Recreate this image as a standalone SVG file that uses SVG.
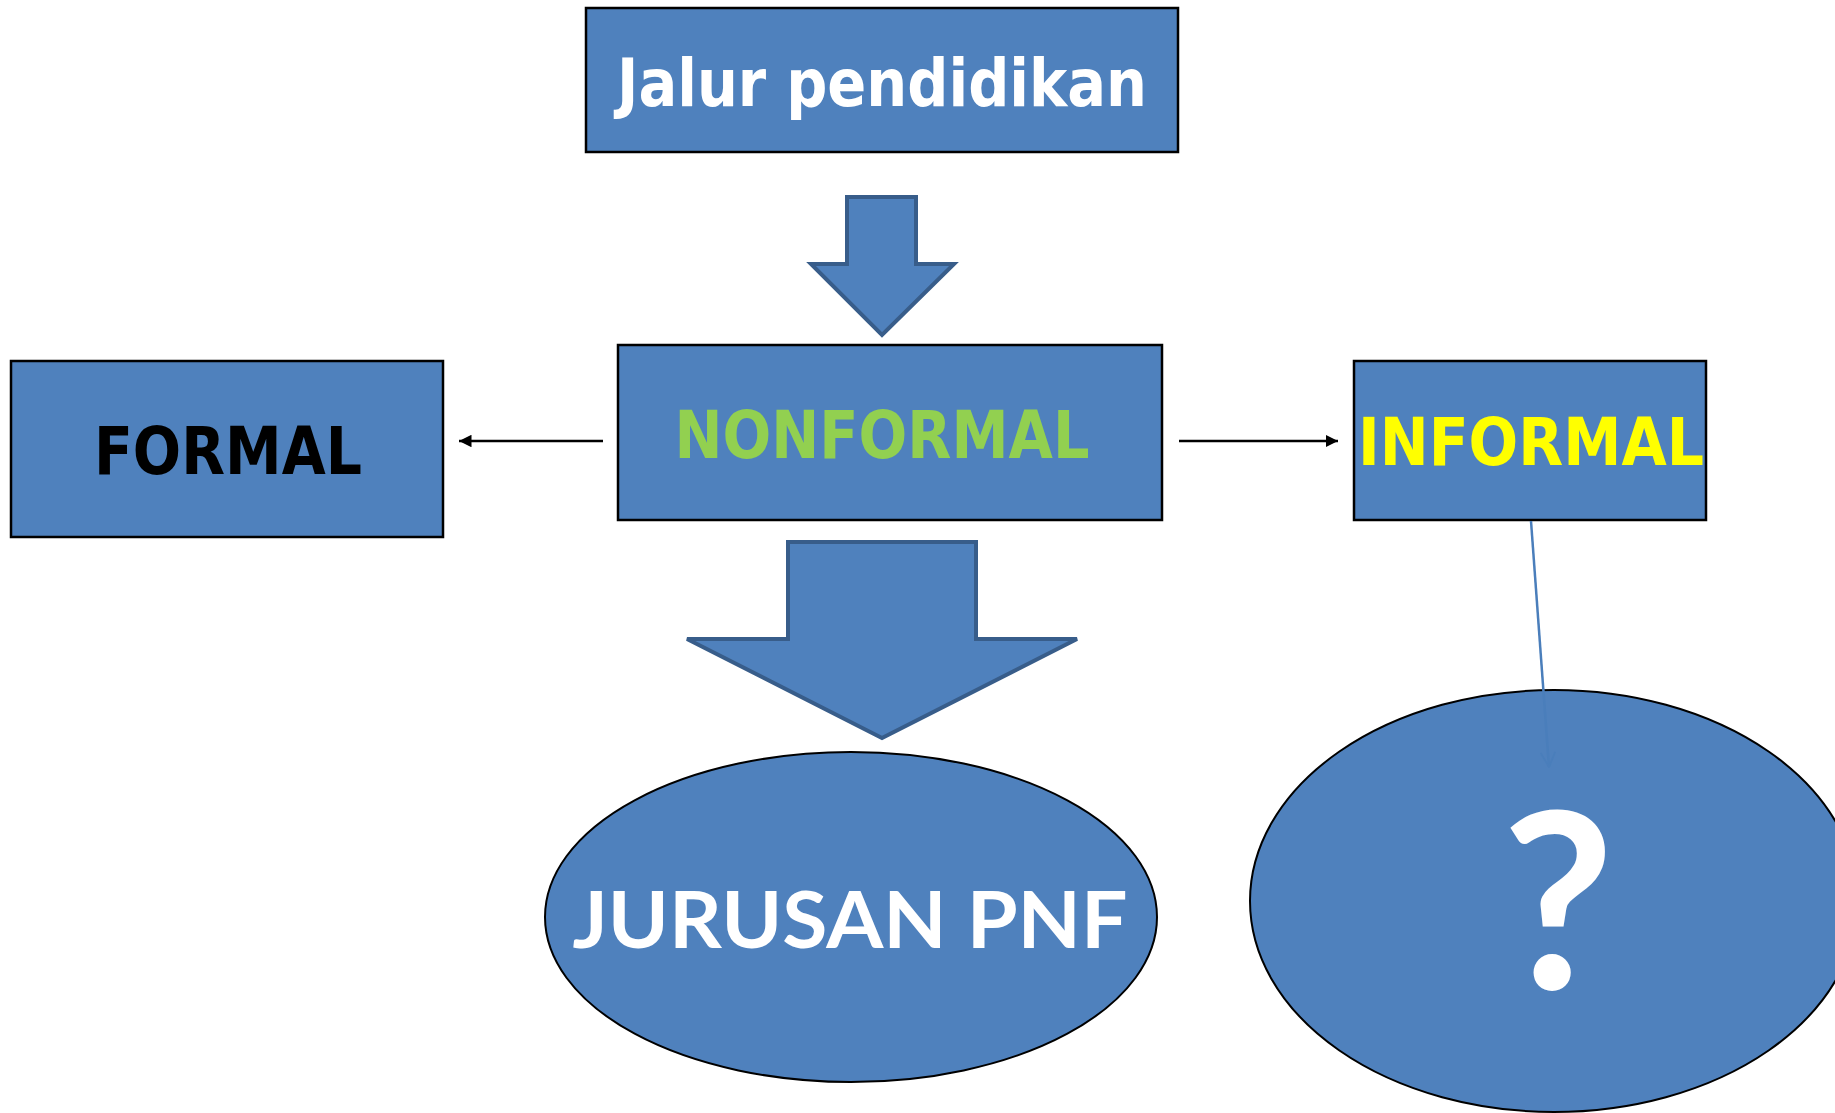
<svg xmlns="http://www.w3.org/2000/svg" width="1835" height="1113" viewBox="0 0 1835 1113">
<style>
.box{fill:#4F81BD;stroke:#000;stroke-width:2.5}
.blk{fill:#4F81BD;stroke:#385D8A;stroke-width:4;stroke-linejoin:miter}
.ell{fill:#4F81BD;stroke:#000;stroke-width:2}
.t{font-family:"DejaVu Sans",Verdana,sans-serif;font-weight:bold;text-anchor:middle}
.c{font-family:Lato,"Open Sans",sans-serif;font-weight:bold;text-anchor:middle;fill:#fff}
</style>
<defs>
<marker id="ah" viewBox="0 0 10 10" refX="10" refY="5" markerWidth="5" markerHeight="5" orient="auto" markerUnits="strokeWidth">
<path d="M0,0 L10,5 L0,10 z" fill="#000"/>
</marker>
<marker id="ov" viewBox="0 0 12 12" refX="11" refY="6" markerWidth="7" markerHeight="7" orient="auto" markerUnits="strokeWidth">
<path d="M1,1 L11,6 L1,11" fill="none" stroke="#4A7EBB" stroke-width="1.2"/>
</marker>
</defs>
<g id="jalur">
<rect class="box" x="586" y="8" width="592" height="144"/>
<text class="t" x="882" y="106" font-size="66" fill="#fff" textLength="530" lengthAdjust="spacingAndGlyphs">Jalur pendidikan</text>
</g>
<g id="nonformal">
<rect class="box" x="618" y="345" width="544" height="175"/>
<text class="t" x="882" y="458" font-size="66" fill="#92D050" textLength="415" lengthAdjust="spacingAndGlyphs">NONFORMAL</text>
</g>
<g id="formal">
<rect class="box" x="11" y="361" width="432" height="176"/>
<text class="t" x="228" y="474" font-size="65" fill="#000" textLength="268" lengthAdjust="spacingAndGlyphs">FORMAL</text>
</g>
<g id="informal">
<rect class="box" x="1354" y="361" width="352" height="159"/>
<text class="t" x="1531" y="465" font-size="65" fill="#FFFF00" textLength="346" lengthAdjust="spacingAndGlyphs">INFORMAL</text>
</g>
<g id="jurusan">
<ellipse class="ell" cx="851" cy="917" rx="306" ry="165"/>
<text class="c" x="850" y="948" font-size="78" textLength="555" lengthAdjust="spacingAndGlyphs">JURUSAN PNF</text>
</g>
<g id="tanya">
<ellipse class="ell" cx="1554" cy="901" rx="304" ry="211"/>
<text class="c" x="1558" y="989" font-size="245">?</text>
</g>
<g id="connectors">
<path class="blk" d="M847,197 L916,197 L916,264 L954,264 L882,335 L811,264 L847,264 Z"/>
<path class="blk" d="M788,542 L976,542 L976,639 L1077,639 L882,738 L687,639 L788,639 Z"/>
<line x1="603" y1="441" x2="459" y2="441" stroke="#000" stroke-width="2.5" marker-end="url(#ah)"/>
<line x1="1179" y1="441" x2="1338" y2="441" stroke="#000" stroke-width="2.5" marker-end="url(#ah)"/>
<line x1="1531" y1="521" x2="1549" y2="767" stroke="#4A7EBB" stroke-width="2.5" marker-end="url(#ov)"/>
</g>
</svg>
